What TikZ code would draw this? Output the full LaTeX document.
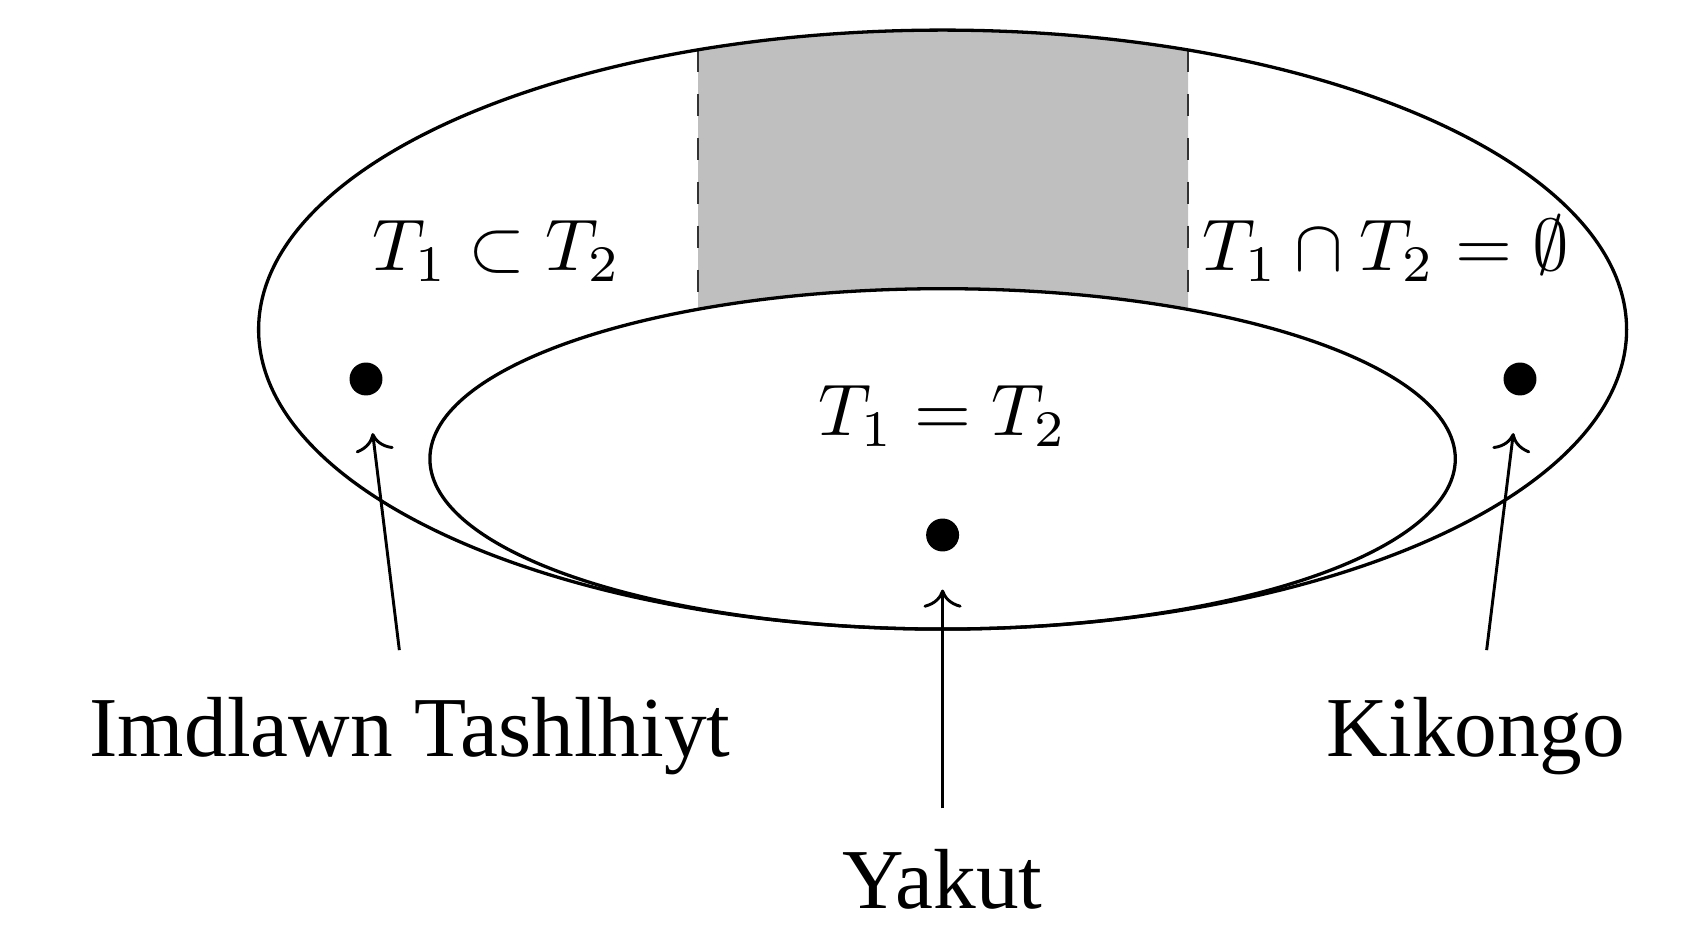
\documentclass[tikz,border=0pt]{standalone}
\usepackage[no-math]{fontspec}
\newfontfamily\langfont{Liberation Serif}
\usetikzlibrary{arrows.meta,positioning}

\begin{document}
\begin{tikzpicture}[
    x=0.48cm, y=-0.48cm,
    font=\normalsize,
    ring/.style={draw=black, line width=0.45pt},
    gap/.style={fill=black!25},
    gapedge/.style={draw=black!80, dashed, line width=0.4pt},
    langdot/.style={circle, fill=black, inner sep=0pt, minimum size=4.5pt},
    langname/.style={font=\langfont\fontsize{11.65}{13.5}\selectfont, anchor=base},
    relation/.style={anchor=base},
    pointer/.style={draw=black, line width=0.4pt, ->, shorten <=3pt, shorten >=5pt}
]
\useasboundingbox (0,0) rectangle (16.89,9.29);

% shaded band between the two sets
\begin{scope}
    \clip (6.98,0) rectangle (11.88,4.5);
    \fill[gap, even odd rule]
        (9.426,3.296) ellipse [x radius=6.84, y radius=2.995]
        (9.426,4.589) ellipse [x radius=5.127, y radius=1.702];
\end{scope}
\draw[gapedge] (6.98,0.499) -- (6.98,3.093);
\draw[gapedge] (11.88,0.499) -- (11.88,3.093);

% the two sets
\draw[ring] (9.426,3.296) ellipse [x radius=6.84, y radius=2.995];
\draw[ring] (9.426,4.589) ellipse [x radius=5.127, y radius=1.702];

\node[relation] (subset) at (4.97,2.71) {$T_1 \subset T_2$};
\node[relation] (disjoint) at (13.86,2.71) {$T_1 \cap T_2 = \emptyset$};
\node[relation] (equal) at (9.43,4.36) {$T_1 = T_2$};

\node[langdot] (dotimd) at (3.66,3.79) {};
\node[langdot] (dotyak) at (9.426,5.35) {};
\node[langdot] (dotkik) at (15.20,3.79) {};

\node[langname] (imdlawn) at (4.10,7.57) {Imdlawn Tashlhiyt};
\node[langname] (kikongo) at (14.76,7.57) {Kikongo};
\node[langname] (yakut) at (9.426,9.08) {Yakut};

\draw[pointer] (imdlawn) -- (dotimd);
\draw[pointer, shorten <=2pt] (yakut) -- (dotyak);
\draw[pointer] (kikongo) -- (dotkik);

\end{tikzpicture}
\end{document}
